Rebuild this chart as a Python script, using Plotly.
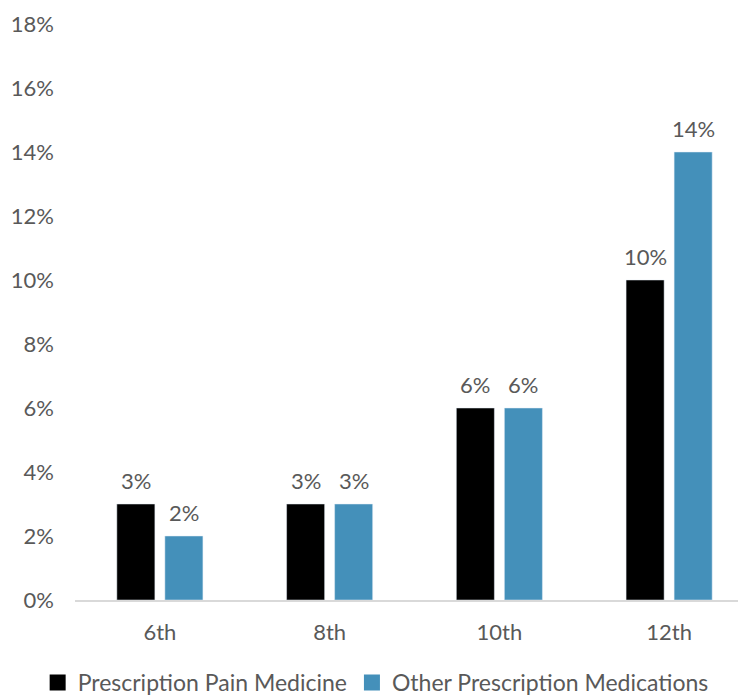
import plotly.graph_objects as go

grades = ["6th", "8th", "10th", "12th"]
pain_medicine = [3, 3, 6, 10]
other_medications = [2, 3, 6, 14]
tick_vals = [0, 2, 4, 6, 8, 10, 12, 14, 16, 18]

series = [
    ("Prescription Pain Medicine", pain_medicine, "#000000", -24),
    ("Other Prescription Medications", other_medications, "#4490BA", 24),
]

text_color = "#595959"
font_family = "Lato, 'Open Sans', sans-serif"

fig = go.Figure()

for name, values, color, shift in series:
    fig.add_trace(go.Bar(
        x=grades,
        y=values,
        name=name,
        marker=dict(color=color),
        showlegend=False,
    ))
    # legend entry with a bigger square swatch
    fig.add_trace(go.Scatter(
        x=[None],
        y=[None],
        mode="markers",
        name=name,
        marker=dict(symbol="square", size=16, color=color),
        showlegend=True,
    ))
    for g, v in zip(grades, values):
        fig.add_annotation(
            x=g, y=v, text=f"{v}%",
            showarrow=False,
            xshift=shift, yshift=8,
            yanchor="bottom",
            font=dict(size=22, color=text_color),
        )

fig.update_layout(
    width=746,
    height=696,
    barmode="group",
    bargap=0.434,
    bargroupgap=0.208,
    plot_bgcolor="white",
    paper_bgcolor="white",
    font=dict(family=font_family, size=22, color=text_color),
    margin=dict(l=67, r=0, t=16, b=104),
    legend=dict(
        orientation="h",
        x=-0.055,
        xanchor="left",
        y=-0.144,
        yanchor="middle",
        font=dict(size=23, color=text_color),
        itemwidth=30,
        tracegroupgap=0,
    ),
)

fig.update_xaxes(
    showline=True,
    linecolor="#D9D9D9",
    linewidth=2,
    ticks="",
    showgrid=False,
    ticklabelstandoff=12,
    tickfont=dict(size=22, color=text_color),
)

fig.update_yaxes(
    range=[0, 18],
    tickvals=tick_vals,
    ticktext=[f"{v}%" for v in tick_vals],
    showgrid=False,
    zeroline=False,
    showline=False,
    ticklabelstandoff=20,
    tickfont=dict(size=22, color=text_color),
)

fig.write_html("out.html")
